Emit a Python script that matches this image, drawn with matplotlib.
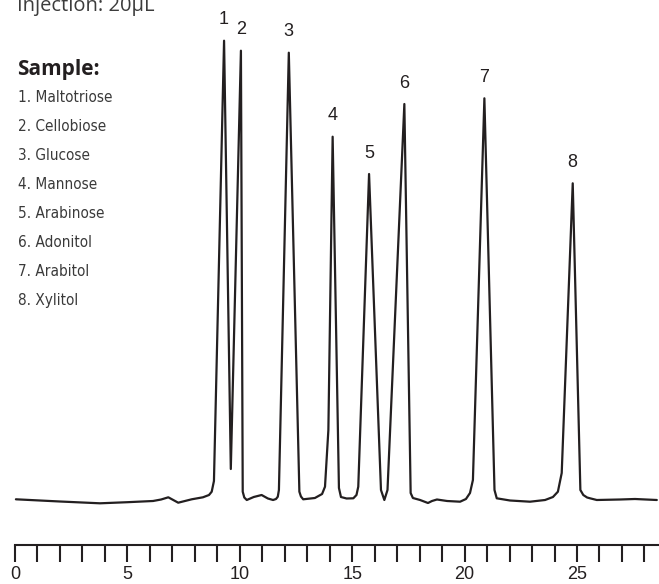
import matplotlib
matplotlib.use("Agg")
import matplotlib.pyplot as plt
from matplotlib import font_manager as fm
from matplotlib.ticker import MultipleLocator
import numpy as np

# Chromatogram trace: retention time (min) and detector signal (arbitrary units)
time_min = [0.04, 2.0, 3.78, 5.0, 6.14, 6.50, 6.82, 7.26, 7.86, 8.36, 8.63, 8.75, 8.85,
            9.30, 9.60, 10.05, 10.13, 10.20, 10.31, 10.62, 10.97, 11.25, 11.48, 11.61,
            11.69, 11.74, 12.18, 12.65, 12.72, 12.82, 13.34, 13.66, 13.79, 13.94, 14.13,
            14.41, 14.50, 14.75, 15.05, 15.19, 15.27, 15.75, 16.28, 16.43, 16.57, 17.32,
            17.60, 17.70, 18.02, 18.37, 18.55, 18.77, 19.22, 19.80, 20.06, 20.24, 20.37,
            20.88, 21.33, 21.43, 22.02, 22.91, 23.58, 23.93, 24.15, 24.32, 24.81, 25.15,
            25.28, 25.45, 25.58, 25.88, 26.91, 27.58, 28.55]
signal = [-0.3, -2.5, -4.3, -3.2, -2.0, -0.5, 1.7, -3.7, -0.3, 1.7, 4.0, 7.3, 18.0,
          458.3, 30.0, 448.3, 7.3, 1.5, -1.0, 2.0, 4.0, 0.5, -1.0, 0.0,
          2.3, 9.0, 446.3, 7.3, 2.5, -0.3, 1.0, 5.0, 12.3, 69.0, 362.3,
          11.0, 2.0, 0.5, 0.7, 4.0, 12.3, 325.0, 9.0, -1.0, 9.0, 395.0,
          6.0, 1.0, -1.0, -4.0, -2.0, -0.5, -2.0, -2.7, 0.0, 6.0, 19.0,
          400.7, 9.0, 0.7, -1.5, -2.7, -1.0, 2.0, 7.3, 26.0, 315.7, 9.0,
          4.0, 1.5, 0.7, -1.0, -0.5, 0.0, -1.0]

# Peak identification
peak_numbers = ["1", "2", "3", "4", "5", "6", "7", "8"]
peak_rt = [9.30, 10.05, 12.18, 14.13, 15.75, 17.32, 20.88, 24.81]
compounds = ["Maltotriose", "Cellobiose", "Glucose", "Mannose",
             "Arabinose", "Adonitol", "Arabitol", "Xylitol"]

injection_text = "Injection: 20µL"
sample_title = "Sample:"
major_ticks = [0, 5, 10, 15, 20, 25]

INK = "#231f20"

names = {f.name for f in fm.fontManager.ttflist}
if "Liberation Sans Narrow" in names:
    list_font = dict(family="Liberation Sans Narrow", size=13)
elif any(f.name == "DejaVu Sans" and f.stretch == "condensed" for f in fm.fontManager.ttflist):
    list_font = dict(family="DejaVu Sans", stretch="condensed", size=11)
else:
    list_font = dict(family="Open Sans", size=10.5)

fig = plt.figure(figsize=(6.59, 5.84), dpi=100)
ax = fig.add_axes([0, 0, 1, 1])
px_per_min = 22.48
x_lo = -15 / px_per_min
x_hi = 644 / px_per_min
ax.set_xlim(x_lo, x_hi)
ax.set_ylim(-85, 499)

ax.plot(time_min, signal, color=INK, lw=1.6, solid_joinstyle="round",
        solid_capstyle="round")

# Peak numbers above each apex
for lab, rt in zip(peak_numbers, peak_rt):
    h = np.interp(rt, time_min, signal)
    ax.annotate(lab, xy=(rt, h), xytext=(0, 15), textcoords="offset points",
                ha="center", va="center", fontsize=13,
                family="Liberation Sans", color=INK)

# Time axis
for side in ("left", "top", "right"):
    ax.spines[side].set_visible(False)
ax.spines["bottom"].set_position(("data", -46))
ax.spines["bottom"].set_bounds(0, x_hi)
ax.spines["bottom"].set_linewidth(1.5)
ax.spines["bottom"].set_color(INK)
ax.xaxis.set_major_locator(MultipleLocator(5))
ax.xaxis.set_minor_locator(MultipleLocator(1))
ax.set_xticks(major_ticks)
ax.set_xticklabels([str(v) for v in major_ticks])
ax.tick_params(axis="x", which="both", direction="out", length=12, width=1.5,
               color=INK, pad=3)
ax.tick_params(axis="x", which="major", labelsize=13, labelcolor=INK)
for lbl in ax.get_xticklabels():
    lbl.set_family("Liberation Sans")
ax.set_yticks([])
ax.patch.set_alpha(0)

W, H = 659, 584


def fx(x):
    return x / W


def fy(y):
    return 1 - y / H


fig.text(fx(17), fy(11), injection_text, family="Open Sans", size=14.5,
         color="#3c3c3c", ha="left", va="baseline")
fig.text(fx(17), fy(75), sample_title, family="Open Sans", weight="bold",
         size=15, color=INK, ha="left", va="baseline")
for i, name in enumerate(compounds):
    fig.text(fx(18), fy(101.7 + 29 * i), f"{i + 1}. {name}", color="#3a3a3a",
             ha="left", va="baseline", **list_font)

fig.savefig("out.png", dpi=100)
